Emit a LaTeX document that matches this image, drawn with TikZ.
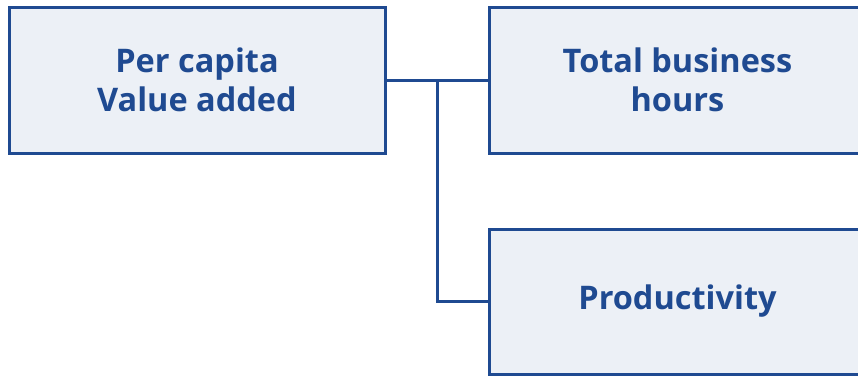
\documentclass[tikz,border=0pt]{standalone}
\usepackage{fontspec}
\setmainfont{Open Sans}
\definecolor{bdr}{HTML}{1F4A91}
\definecolor{bfill}{HTML}{ECF0F6}
\begin{document}
\begin{tikzpicture}[x=1pt,y=-1pt,
  box/.style={draw=bdr,fill=bfill,line width=3pt,inner sep=0pt,
    text=bdr,font=\bfseries\fontsize{32.5}{39}\selectfont,align=center},
  link/.style={draw=bdr,line width=3pt}]
\useasboundingbox (0,0) rectangle (858,375);
\begin{scope}
\clip (0,0) rectangle (858,375);
\node[box,minimum width=376pt,minimum height=146pt] (pc) at (197,80) {Per capita\\Value added};
\node[box,minimum width=377pt,minimum height=146pt] (tb) at (677.5,80) {Total business\\hours};
\node[box,minimum width=377pt,minimum height=145pt] (pr) at (677.5,301.5) {Productivity};
\coordinate (j) at (437,80);
\draw[link] (pc.east) -- (tb.west);
\draw[link] (j) |- (pr.west);
\end{scope}
\end{tikzpicture}
\end{document}
